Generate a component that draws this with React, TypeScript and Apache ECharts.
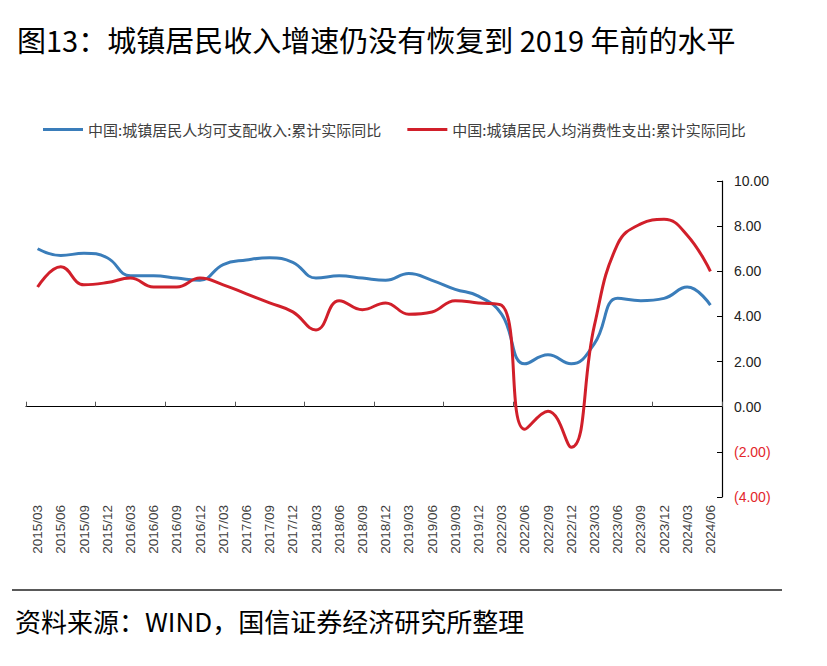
import React, { useEffect, useRef } from "react";
import * as echarts from "echarts";

const titleText = "图13：城镇居民收入增速仍没有恢复到 2019 年前的水平";
const footerText = "资料来源：WIND，国信证券经济研究所整理";

const categories = [
  "2015/03", "2015/06", "2015/09", "2015/12",
  "2016/03", "2016/06", "2016/09", "2016/12",
  "2017/03", "2017/06", "2017/09", "2017/12",
  "2018/03", "2018/06", "2018/09", "2018/12",
  "2019/03", "2019/06", "2019/09", "2019/12",
  "2022/03", "2022/06", "2022/09", "2022/12",
  "2023/03", "2023/06", "2023/09", "2023/12",
  "2024/03", "2024/06",
];

const incomeName = "中国:城镇居民人均可支配收入:累计实际同比";
const consumptionName = "中国:城镇居民人均消费性支出:累计实际同比";

const incomeGrowth = [
  7.0, 6.7, 6.8, 6.6,
  5.8, 5.8, 5.7, 5.6,
  6.3, 6.5, 6.6, 6.4,
  5.7, 5.8, 5.7, 5.6,
  5.9, 5.6, 5.2, 4.9,
  4.1, 1.9, 2.3, 1.9,
  2.8, 4.8, 4.7, 4.8,
  5.3, 4.5,
];

const consumptionGrowth = [
  5.3, 6.2, 5.4, 5.5,
  5.7, 5.3, 5.3, 5.7,
  5.4, 5.0, 4.6, 4.2,
  3.4, 4.7, 4.3, 4.6,
  4.1, 4.2, 4.7, 4.6,
  4.5, -1.0, -0.2, -1.8,
  3.6, 7.2, 8.1, 8.3,
  7.6, 6.0,
];

const yMin = -4;
const yMax = 10;
const yInterval = 2;

export default function App() {
  const ref = useRef<HTMLDivElement>(null);

  useEffect(() => {
    if (!ref.current) return;
    const chart = echarts.init(ref.current, null, { renderer: "svg" });
    chart.setOption({
      animation: false,
      backgroundColor: "#ffffff",
      grid: { left: 26, right: 105, top: 181, bottom: 169 },
      legend: {
        left: 38,
        top: 117,
        icon: "rect",
        itemWidth: 40,
        itemHeight: 3,
        itemGap: 26,
        textStyle: {
          fontSize: 15,
          color: "#404040",
          fontFamily: "Noto Sans CJK SC",
        },
        data: [incomeName, consumptionName],
      },
      xAxis: [
        {
          type: "category",
          data: categories,
          boundaryGap: true,
          axisLine: { onZero: true, lineStyle: { color: "#000", width: 1.2 } },
          axisTick: { show: true, inside: true, length: 5, lineStyle: { color: "#555" } },
          axisLabel: { show: false },
          splitLine: { show: false },
        },
        {
          type: "category",
          data: categories,
          position: "bottom",
          boundaryGap: true,
          axisLine: { show: false, onZero: false },
          axisTick: { show: false },
          splitLine: { show: false },
          axisLabel: {
            rotate: 90,
            interval: 0,
            margin: 8,
            fontSize: 13.5,
            color: "#404040",
            fontFamily: "Liberation Sans",
          },
        },
      ],
      yAxis: {
        type: "value",
        position: "right",
        min: yMin,
        max: yMax,
        interval: yInterval,
        axisLine: { show: true, lineStyle: { color: "#000", width: 1.2 } },
        axisTick: { show: true, inside: true, length: 5, lineStyle: { color: "#000" } },
        splitLine: { show: false },
        axisLabel: {
          margin: 12,
          fontSize: 14,
          fontFamily: "Liberation Sans",
          color: (v: any) => (Number(v) < 0 ? "#E3262B" : "#222222"),
          formatter: (v: number) =>
            v < 0 ? `(${Math.abs(v).toFixed(2)})` : v.toFixed(2),
        },
      },
      series: [
        {
          name: incomeName,
          type: "line",
          xAxisIndex: 0,
          data: incomeGrowth,
          smooth: 0.45,
          symbol: "none",
          lineStyle: { width: 3, color: "#3A7DBA" },
          itemStyle: { color: "#3A7DBA" },
        },
        {
          name: consumptionName,
          type: "line",
          xAxisIndex: 0,
          data: consumptionGrowth,
          smooth: 0.45,
          symbol: "none",
          lineStyle: { width: 3, color: "#D11F2A" },
          itemStyle: { color: "#D11F2A" },
        },
      ],
      graphic: [
        {
          type: "text",
          x: 17,
          y: 39,
          style: {
            text: titleText,
            fontSize: 29,
            fontFamily: "Noto Sans CJK SC",
            fill: "#000",
            verticalAlign: "middle",
          },
        },
        {
          type: "line",
          shape: { x1: 12, y1: 590, x2: 782, y2: 590 },
          style: { stroke: "#222", lineWidth: 1.5 },
        },
        {
          type: "text",
          x: 15,
          y: 620,
          style: {
            text: footerText,
            fontSize: 26,
            fontFamily: "Noto Sans CJK SC",
            fill: "#000",
            verticalAlign: "middle",
          },
        },
      ],
    });
    return () => chart.dispose();
  }, []);

  return (
    <div
      ref={ref}
      style={{ position: "fixed", left: 0, top: 0, width: 827, height: 666, background: "#fff" }}
    />
  );
}
